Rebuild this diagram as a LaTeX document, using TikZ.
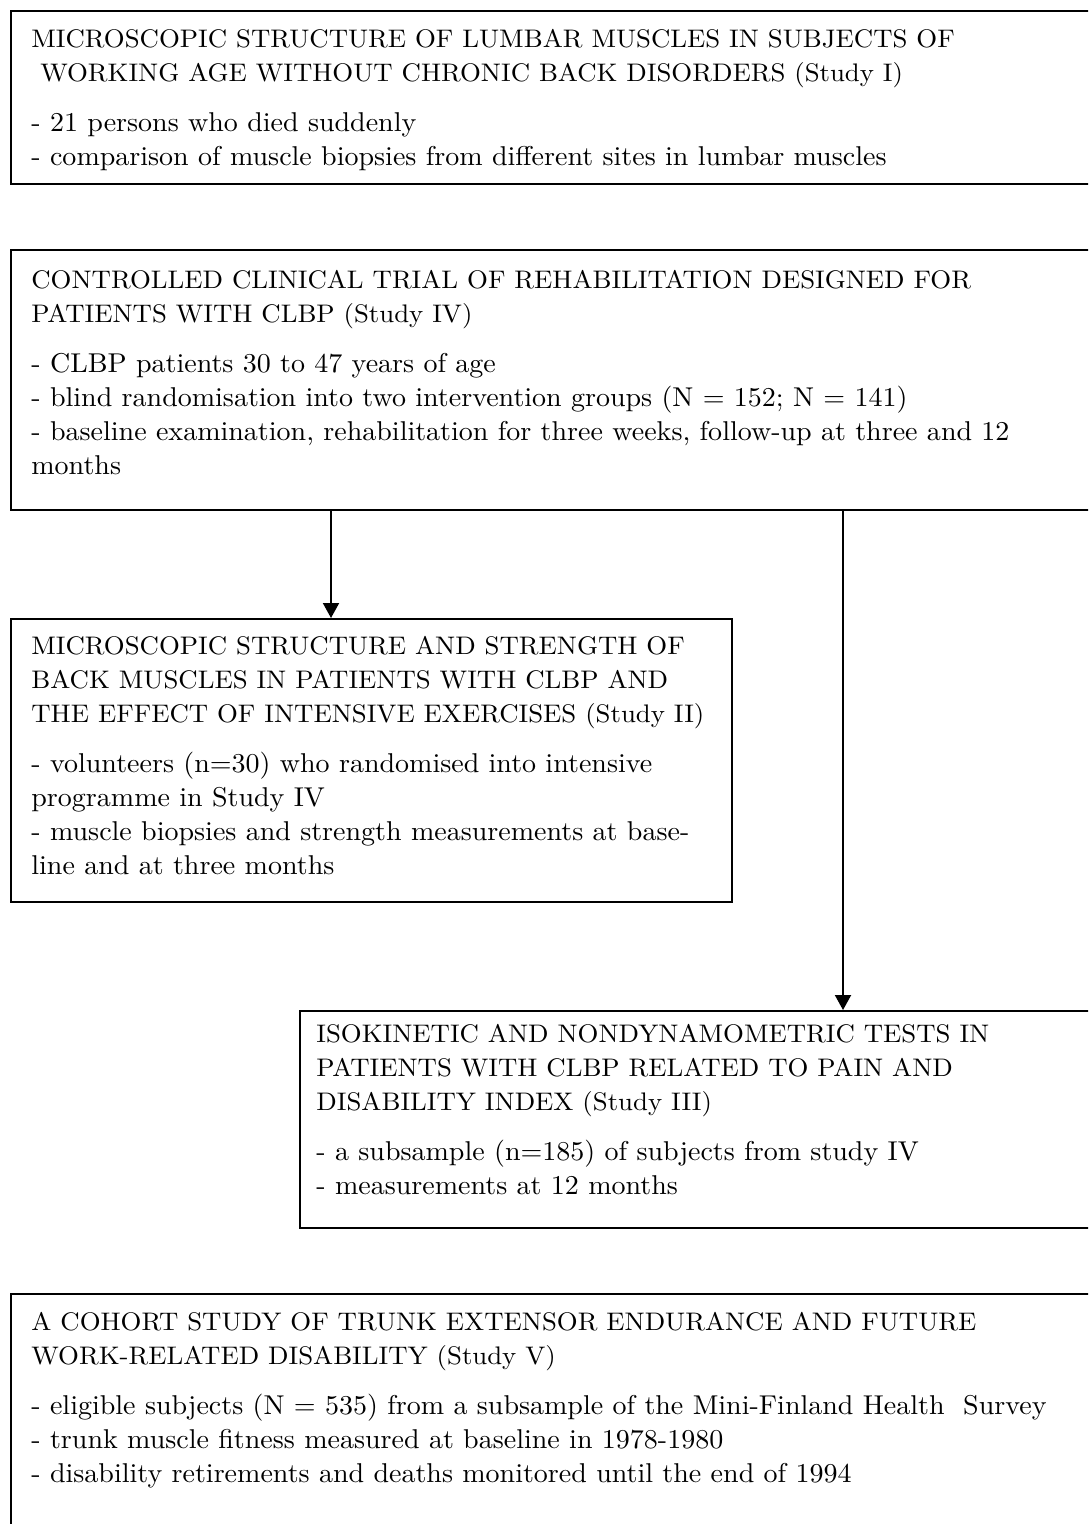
\documentclass[tikz,border=0pt]{standalone}
\usepackage{fontspec}
\setmainfont{lmroman10-regular}[Extension=.otf, FakeStretch=1.03]
\newfontfamily\capsfont{lmroman10-regular}[Extension=.otf, FakeStretch=1.055]
\usepackage{tikz}
\usetikzlibrary{arrows.meta}
\newcommand{\heading}[1]{{\capsfont\fontsize{12.7}{17}\selectfont #1}}

\begin{document}
\begin{tikzpicture}[
      x=0.5pt, y=-0.5pt,
      font=\fontsize{13.6}{17}\selectfont,
      studybox/.style={draw, line width=1pt, anchor=north west, inner sep=0pt},
      studytext/.style={anchor=north west, align=left, inner sep=0pt},
      flow/.style={-{Triangle[length=7.5pt, width=8pt]}, line width=1pt}]
    \useasboundingbox (0,0) rectangle (1088,1524);
    \clip (0,0) rectangle (1088,1524);
    % frames
    \node[studybox, minimum width=542.5pt, minimum height=86.5pt] (s1) at (10,10) {};
    \node[studybox, minimum width=542.5pt, minimum height=130pt] (s4) at (10,249) {};
    \node[studybox, minimum width=360.5pt, minimum height=141.5pt] (s2) at (10,618) {};
    \node[studybox, minimum width=398pt, minimum height=108.5pt] (s3) at (299,1010) {};
    \node[studybox, minimum width=542.5pt, minimum height=130pt] (s5) at (10,1293) {};
    % texts
    \node[studytext] (t1) at ([shift={(10.5pt,-9.6pt)}]s1.north west)
      {\heading{MICROSCOPIC STRUCTURE OF LUMBAR MUSCLES IN SUBJECTS OF}\\
       \heading{\ WORKING AGE WITHOUT CHRONIC BACK DISORDERS (Study I)}\\[8pt]
       - 21 persons who died suddenly\\
       - comparison of muscle biopsies from different sites in lumbar muscles};
    \node[studytext] (t4) at ([shift={(10.5pt,-10.6pt)}]s4.north west)
      {\heading{CONTROLLED CLINICAL TRIAL OF REHABILITATION DESIGNED FOR}\\
       \heading{PATIENTS WITH CLBP (Study IV)}\\[8pt]
       - CLBP patients 30 to 47 years of age\\
       - blind randomisation into two intervention groups (N = 152; N = 141)\\
       - baseline examination, rehabilitation for three weeks, follow-up at three and 12\\
       months};
    \node[studytext] (t2) at ([shift={(10.5pt,-9.1pt)}]s2.north west)
      {\heading{MICROSCOPIC STRUCTURE AND STRENGTH OF}\\
       \heading{BACK MUSCLES IN PATIENTS WITH CLBP AND}\\
       \heading{THE EFFECT OF INTENSIVE EXERCISES (Study II)}\\[8pt]
       - volunteers (n=30) who randomised into intensive\\
       programme in Study IV\\
       - muscle biopsies and strength measurements at base-\\
       line and at three months};
    \node[studytext] (t3) at ([shift={(8.5pt,-7.1pt)}]s3.north west)
      {\heading{ISOKINETIC AND NONDYNAMOMETRIC TESTS IN}\\
       \heading{PATIENTS WITH CLBP RELATED TO PAIN AND}\\
       \heading{DISABILITY INDEX (Study III)}\\[8pt]
       - a subsample (n=185) of subjects from study IV\\
       - measurements at 12 months};
    \node[studytext] (t5) at ([shift={(10.5pt,-9.6pt)}]s5.north west)
      {\heading{A COHORT STUDY OF TRUNK EXTENSOR ENDURANCE AND FUTURE}\\
       \heading{WORK-RELATED DISABILITY (Study V)}\\[8pt]
       - eligible subjects (N = 535) from a subsample of the Mini-Finland Health \ Survey\\
       - trunk muscle fitness measured at baseline in 1978-1980\\
       - disability retirements and deaths monitored until the end of 1994};
    % arrows
    \coordinate (a2) at ([xshift=160.5pt]s2.north west);
    \coordinate (a3) at ([xshift=272pt]s3.north west);
    \draw[flow] (a2 |- s4.south) -- (a2);
    \draw[flow] (a3 |- s4.south) -- (a3);
  \end{tikzpicture}
\end{document}
